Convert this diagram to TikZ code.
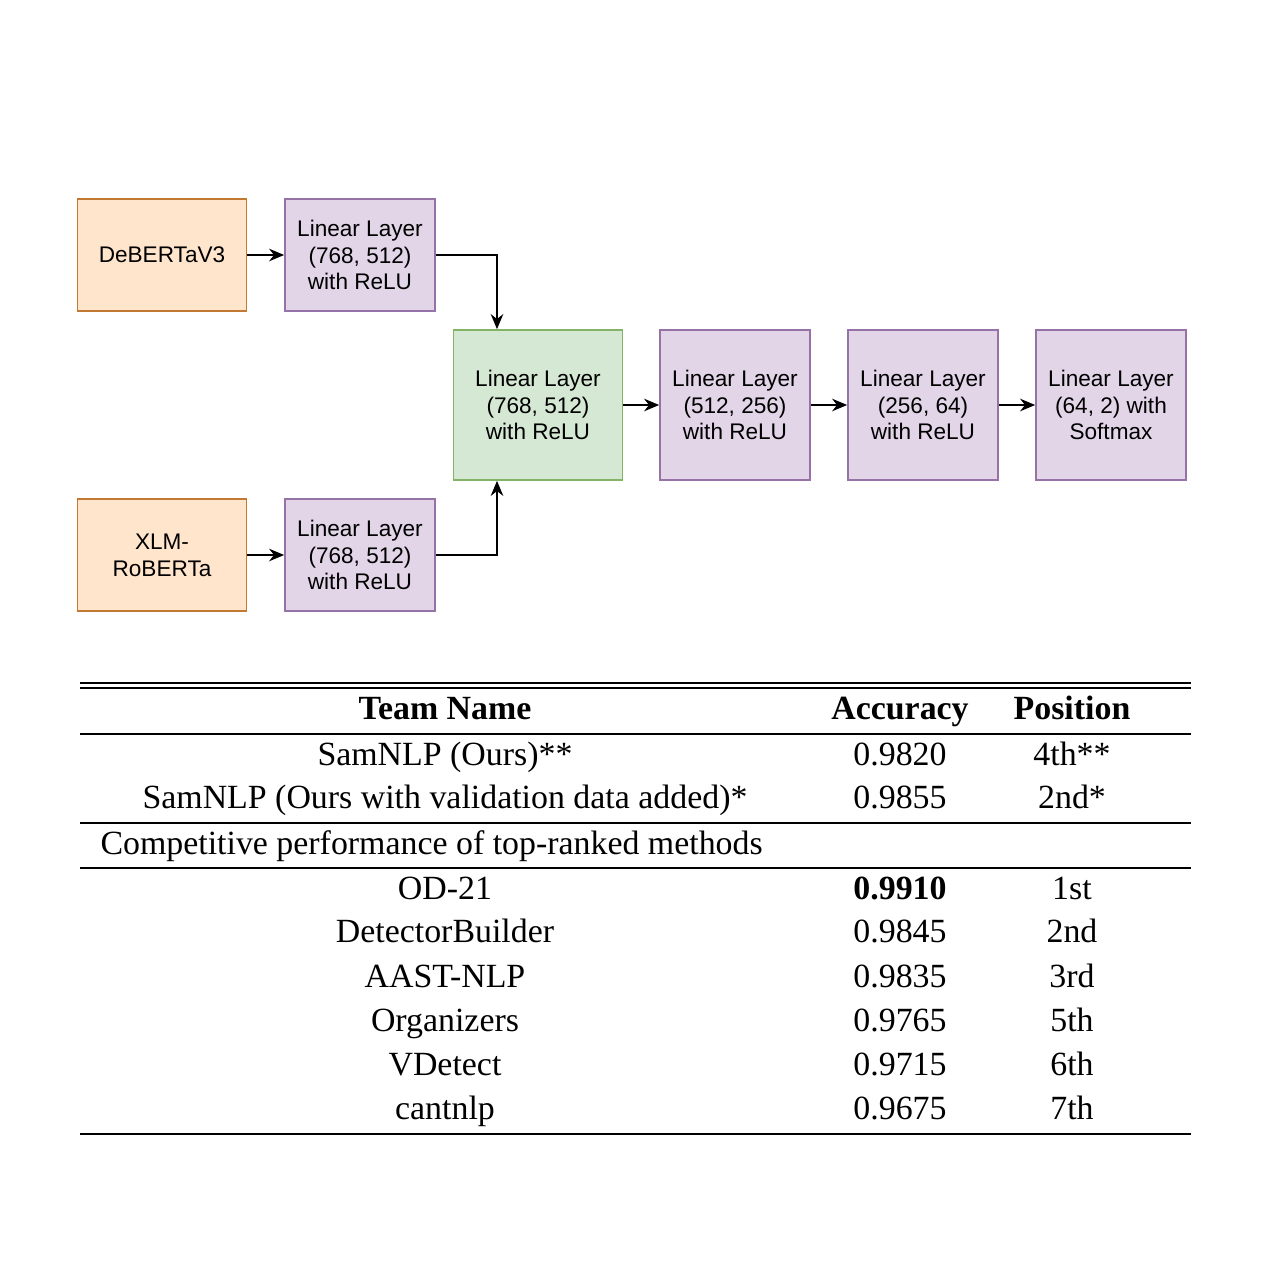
\documentclass[tikz,border=0pt]{standalone}
\usepackage{fontspec}
\setmainfont{Liberation Serif}
\newfontfamily\boxfont{Liberation Sans}
\usetikzlibrary{arrows.meta}

\begin{document}
\begin{tikzpicture}[x=0.014cm,y=-0.014cm]
     \tikzstyle{base}=[draw,line width=0.7pt,align=center,font=\boxfont\fontsize{9}{10.7}\selectfont,inner sep=1pt]
     \tikzstyle{encoder}=[base,fill=orange!20!white,draw=orange!70!black!80,minimum width=2.37cm,minimum height=1.57cm]
     \tikzstyle{layer}=[base,fill={rgb,255:red,225;green,213;blue,231},draw={rgb,255:red,150;green,115;blue,166},minimum width=2.1cm,minimum height=1.57cm]
     \tikzstyle{fused}=[base,fill={rgb,255:red,213;green,232;blue,212},draw={rgb,255:red,130;green,179;blue,102},minimum width=2.37cm,minimum height=2.1cm]
     \tikzstyle{link}=[draw,line width=0.7pt,-{Stealth[length=6pt,width=5pt]}]
     \tikzstyle{cell}=[font=\fontsize{13.5}{15}\selectfont,inner sep=0pt,anchor=base]
     \useasboundingbox (0,0) rectangle (1284,1284);

     % diagram
     \node[encoder] (deb) at (162,255) {DeBERTaV3};
     \node[layer] (l1) at (360,255) {Linear Layer\\(768, 512)\\with ReLU};
     \node[encoder] (xlm) at (162,555) {XLM-\\RoBERTa};
     \node[layer] (l2) at (360,555) {Linear Layer\\(768, 512)\\with ReLU};
     \node[fused] (l3) at (538,405) {Linear Layer\\(768, 512)\\with ReLU};
     \node[layer,minimum height=2.1cm] (l4) at (735,405) {Linear Layer\\(512, 256)\\with ReLU};
     \node[layer,minimum height=2.1cm] (l5) at (923,405) {Linear Layer\\(256, 64)\\with ReLU};
     \node[layer,minimum height=2.1cm] (l6) at (1111,405) {Linear Layer\\(64, 2) with\\Softmax};

     \draw[link] (deb) -- (l1);
     \draw[link] (xlm) -- (l2);
     \draw[link] (l1.east) -| (l3.north -| 497,0);
     \draw[link] (l2.east) -| (l3.south -| 497,0);
     \draw[link] (l3) -- (l4);
     \draw[link] (l4) -- (l5);
     \draw[link] (l5) -- (l6);

     % table
     \draw[line width=0.8pt] (80,683) -- (1191,683) (80,688) -- (1191,688);
     \draw[line width=0.6pt] (80,734) -- (1191,734) (80,823) -- (1191,823) (80,868) -- (1191,868);
     \draw[line width=0.8pt] (80,1134) -- (1191,1134);
     \node[cell] (h1) at (445,719) {\bfseries Team Name};
     \node[cell] (h2) at (900,719) {\bfseries Accuracy};
     \node[cell] (h3) at (1072,719) {\bfseries Position};
     \foreach \y/\t/\a/\p in {
        765/{SamNLP (Ours)**}/0.9820/4th**,
        808/{SamNLP (Ours with validation data added)*}/0.9855/2nd*,
        942/DetectorBuilder/0.9845/2nd,
        987/AAST-NLP/0.9835/3rd,
        1031/Organizers/0.9765/5th,
        1075/VDetect/0.9715/6th,
        1119/cantnlp/0.9675/7th}{
       \node[cell] at (445,\y) {\t};
       \node[cell] at (900,\y) {\a};
       \node[cell] at (1072,\y) {\p};
     }
     \node[cell] at (445,899) {OD-21};
     \node[cell] at (900,899) {\bfseries 0.9910};
     \node[cell] at (1072,899) {1st};
     \node[cell,anchor=base west] (comp) at (100,854) {Competitive performance of top-ranked methods};
\end{tikzpicture}
\end{document}
